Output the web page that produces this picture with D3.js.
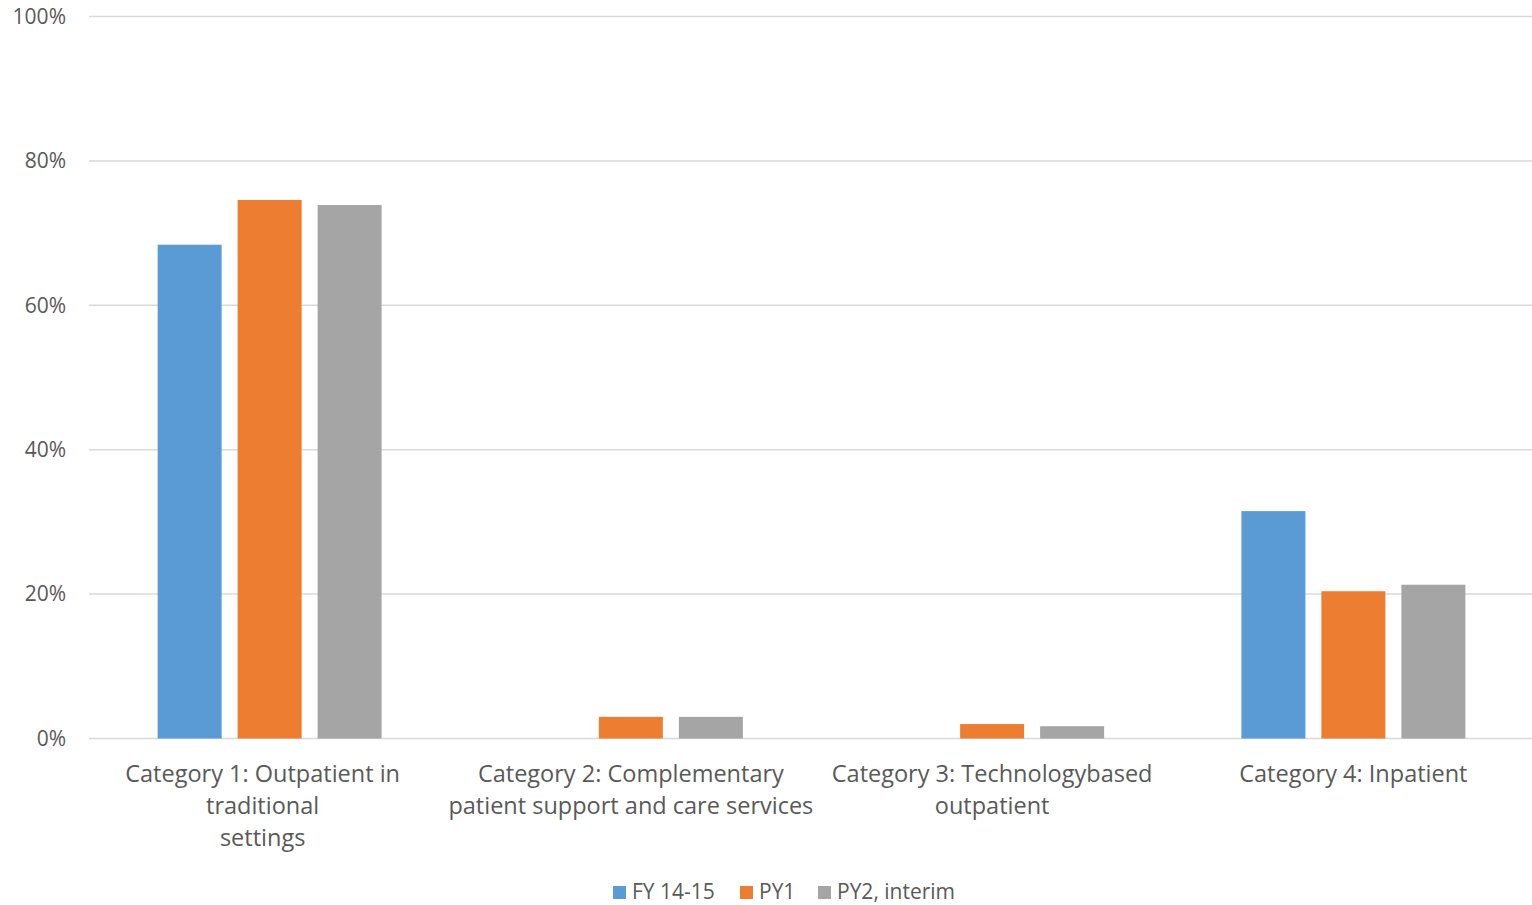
<!DOCTYPE html>
<html>
<head>
<meta charset="utf-8">
<script src="https://cdn.jsdelivr.net/npm/d3@7"></script>
<style>
  html, body { margin: 0; padding: 0; background: #fff; }
  svg { display: block; font-family: "Open Sans", "Noto Sans", sans-serif; }
</style>
</head>
<body>
<svg id="chart" width="1532" height="905"></svg>
<script>
// Category labels, one array entry per wrapped line
const categories = [
  ["Category 1: Outpatient in", "traditional", "settings"],
  ["Category 2: Complementary", "patient support and care services"],
  ["Category 3: Technologybased", "outpatient"],
  ["Category 4: Inpatient"]
];
const seriesNames = ["FY 14-15", "PY1", "PY2, interim"];
const seriesColors = ["#5b9bd5", "#ed7d31", "#a5a5a5"];
// Share of each category per series (fraction)
const fy1415 = [0.684, 0, 0, 0.315];
const py1 = [0.746, 0.030, 0.020, 0.204];
const py2Interim = [0.739, 0.030, 0.017, 0.213];
const yTicks = [0, 0.2, 0.4, 0.6, 0.8, 1.0];

const series = [fy1415, py1, py2Interim];
const svg = d3.select("#chart");
const textColor = "#595959";

const x0 = d3.scaleBand().domain(d3.range(categories.length)).range([89, 1534]).paddingInner(0).paddingOuter(0);
const y = d3.scaleLinear().domain([0, 1]).range([738.5, 16.6]);

// Bars: width and spacing as fractions of the category step
const step = x0.bandwidth();
const barW = step * 64 / 361.3;
const barGap = step * 16 / 361.3;
const groupW = barW * 3 + barGap * 2;

// Gridlines
svg.append("g").selectAll("line").data(yTicks).join("line")
  .attr("x1", 89).attr("x2", 1532)
  .attr("y1", d => y(d)).attr("y2", d => y(d))
  .attr("stroke", "#d9d9d9").attr("stroke-width", 1.5);

// Y axis labels
const yAxis = d3.axisLeft(y).tickValues(yTicks).tickFormat(d3.format(".0%")).tickSize(0).tickPadding(0);
const ya = svg.append("g").attr("transform", "translate(66,0)").call(yAxis);
ya.select(".domain").remove();
ya.selectAll("text").attr("fill", textColor).style("font-size", "21px").style("font-family", "'Open Sans', sans-serif");

// Bars
series.forEach((vals, s) => {
  svg.append("g").selectAll("rect").data(vals.map((v, i) => ({v, i}))).join("rect")
    .attr("x", d => x0(d.i) + (step - groupW) / 2 + s * (barW + barGap))
    .attr("width", barW)
    .attr("y", d => y(d.v))
    .attr("height", d => y(0) - y(d.v))
    .attr("fill", seriesColors[s]);
});

// Category labels (first label sits slightly left of its band centre)
const labelShift = [-7, 0, 0, 0];
const catG = svg.append("g");
categories.forEach((lines, i) => {
  const cx = x0(i) + step / 2 + labelShift[i];
  const t = catG.append("text")
    .attr("text-anchor", "middle")
    .attr("fill", textColor)
    .style("font-size", "23.5px");
  lines.forEach((ln, k) => {
    t.append("tspan").attr("x", cx).attr("y", 782 + k * 32).text(ln);
  });
});

// Legend
const legendX = [613, 740, 818];
const lg = svg.append("g");
seriesNames.forEach((name, s) => {
  lg.append("rect").attr("x", legendX[s]).attr("y", 886).attr("width", 13).attr("height", 13).attr("fill", seriesColors[s]);
  lg.append("text").attr("x", legendX[s] + 19).attr("y", 899).attr("fill", textColor)
    .style("font-size", "21px").text(name);
});
</script>
</body>
</html>
